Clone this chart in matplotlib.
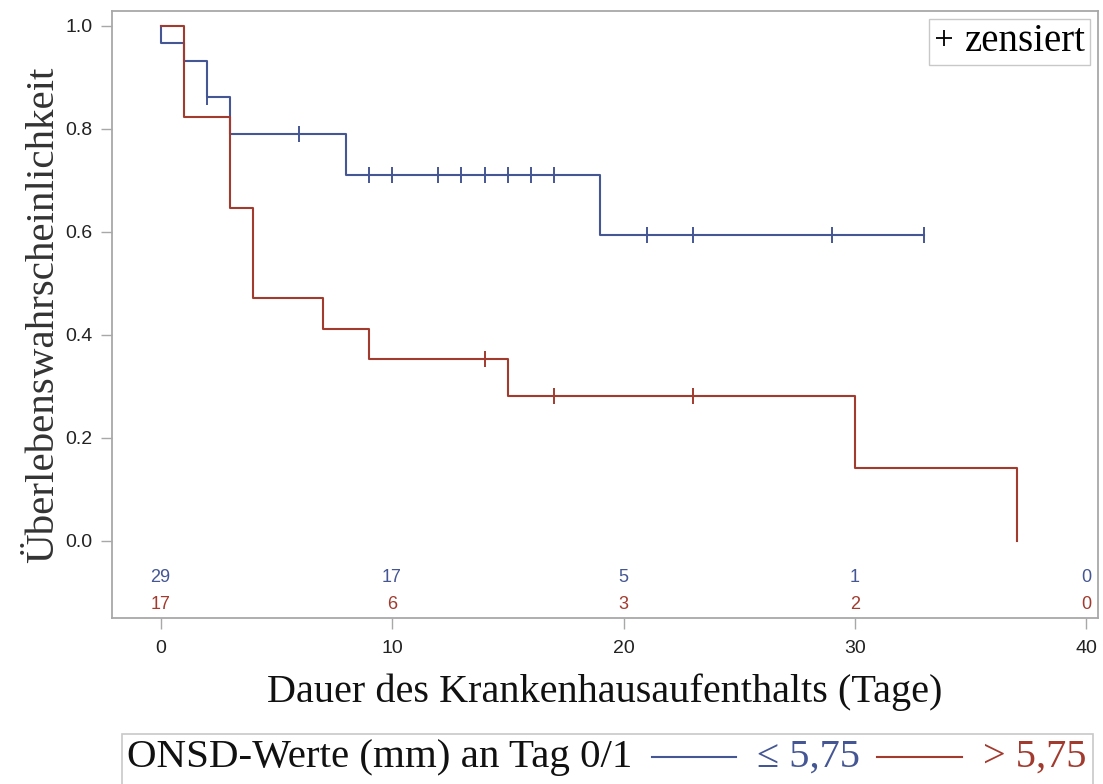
import numpy as np
import matplotlib
matplotlib.use("Agg")
import matplotlib.pyplot as plt
from matplotlib.lines import Line2D
from matplotlib.patches import Rectangle

# ---------------------------------------------------------------
# Kaplan-Meier step data
# ---------------------------------------------------------------
blue_t = [0, 0, 1, 2, 3, 8, 19, 33]
blue_s = [1.0, 0.966, 0.931, 0.862, 0.790, 0.711, 0.593, 0.593]
blue_cens = [2, 6, 9, 10, 12, 13, 14, 15, 16, 17, 21, 23, 29, 33]

red_t = [0, 1, 3, 4, 7, 9, 15, 30, 37]
red_s = [1.0, 0.824, 0.647, 0.471, 0.412, 0.353, 0.282, 0.141, 0.0]
red_cens = [14, 17, 23]

risk_t = [0, 10, 20, 30, 40]
risk_blue = [29, 17, 5, 1, 0]
risk_red = [17, 6, 3, 2, 0]

BLUE = "#445694"
RED = "#A23A2E"
GRAY = "#a8a8a8"
TXT = "#222222"
SERIF = ["Liberation Serif", "DejaVu Serif"]
SANS = ["Liberation Sans", "DejaVu Sans"]


def surv_at(times, surv, pts):
    idx = np.searchsorted(times, pts, side="right") - 1
    return np.asarray(surv)[idx]


fig = plt.figure(figsize=(11.03, 7.84), dpi=100)
ax = fig.add_axes([112 / 1103, 1 - 618 / 784, 986 / 1103, 607 / 784])

ax.plot(blue_t, blue_s, drawstyle="steps-post", color=BLUE, lw=1.5)
ax.plot(red_t, red_s, drawstyle="steps-post", color=RED, lw=1.5)
ax.plot(blue_cens, surv_at(blue_t, blue_s, blue_cens), ls="none",
        marker="|", ms=11, mew=1.4, color=BLUE)
ax.plot(red_cens, surv_at(red_t, red_s, red_cens), ls="none",
        marker="|", ms=11, mew=1.4, color=RED)

# numbers at risk
for t, nb, nr in zip(risk_t, risk_blue, risk_red):
    ax.text(t, -0.072, str(nb), color=BLUE, ha="center", va="center",
            fontsize=13, family=SANS)
    ax.text(t, -0.124, str(nr), color=RED, ha="center", va="center",
            fontsize=13, family=SANS)

ax.set_xlim(-2.1, 40.5)
ax.set_ylim(-0.15, 1.029)
ax.set_xticks([0, 10, 20, 30, 40])
ax.set_yticks([0.0, 0.2, 0.4, 0.6, 0.8, 1.0])
ax.set_yticklabels([f"{v:.1f}" for v in [0.0, 0.2, 0.4, 0.6, 0.8, 1.0]])

for sp in ax.spines.values():
    sp.set_color(GRAY)
    sp.set_linewidth(1.3)
ax.tick_params(colors=GRAY, labelcolor=TXT, length=8, width=1.0,
               labelsize=14)
ax.tick_params(axis="x", pad=8)
ax.tick_params(axis="y", pad=6)
for lab in ax.get_xticklabels() + ax.get_yticklabels():
    lab.set_family(SANS)

ax.set_xlabel("Dauer des Krankenhausaufenthalts (Tage)", family=SERIF,
              fontsize=29, color="#111111", labelpad=12)
ax.set_ylabel("Überlebenswahrscheinlichkeit", family=SERIF,
              fontsize=29.5, color="#333333", labelpad=2)

# censor legend
h = Line2D([], [], ls="none", marker="+", ms=12, mew=1.3, color="black")
leg = ax.legend([h], ["zensiert"], loc="upper right",
                prop={"family": SERIF, "size": 28}, handlelength=0.55,
                handletextpad=0.25, borderpad=0.12, borderaxespad=0.2,
                fancybox=False, framealpha=1)
leg.get_frame().set_edgecolor("#c8c8c8")
leg.get_frame().set_linewidth(1.0)

# bottom group legend
fig.patches.append(Rectangle((122 / 1103, -0.01), 971 / 1103, 50 / 784 + 0.01,
                             transform=fig.transFigure, fill=False,
                             edgecolor="#c8c8c8", lw=1.2))
ly = 1 - 757 / 784
fig.text(127 / 1103, ly, "ONSD-Werte (mm) an Tag 0/1", family=SERIF,
         fontsize=29.5, color="#111111", va="center", ha="left")
fig.lines.append(Line2D([652 / 1103, 736 / 1103], [ly, ly],
                        transform=fig.transFigure, color=BLUE, lw=1.5))
fig.text(757 / 1103, ly, "≤ 5,75", family=SERIF, fontsize=29, color=BLUE,
         va="center", ha="left")
fig.lines.append(Line2D([877 / 1103, 962 / 1103], [ly, ly],
                        transform=fig.transFigure, color=RED, lw=1.5))
fig.text(983 / 1103, ly, "> 5,75", family=SERIF, fontsize=29, color=RED,
         va="center", ha="left")

fig.savefig("out.png", dpi=100)
